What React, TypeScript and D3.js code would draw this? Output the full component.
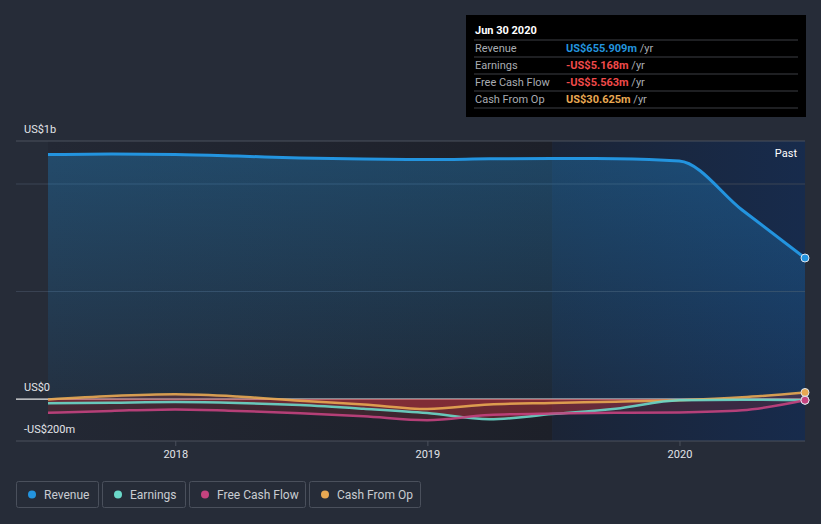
import React from "react";
import * as d3 from "d3";

const dates = [
  "2017-06-30", "2017-09-30", "2017-12-31", "2018-03-31", "2018-06-30", "2018-09-30",
  "2018-12-31", "2019-03-31", "2019-06-30", "2019-09-30", "2019-12-31", "2020-03-31", "2020-06-30",
];
// values in US$ millions
const revenue = [1137, 1139, 1137, 1130, 1121, 1116, 1114, 1117, 1119, 1118, 1107, 879, 655.909];
const earnings = [-20, -17, -14, -18, -28, -45, -65, -94, -70, -45, -6, -3, -5.168];
const freeCashFlow = [-64, -55, -48, -55, -66, -80, -98, -74, -67, -64, -62, -52, -5.563];
const cashFromOp = [-2, 14, 22, 12, -8, -25, -46, -25, -18, -12, -5, 8, 30.625];

const seriesNames = ["Revenue", "Earnings", "Free Cash Flow", "Cash From Op"];
const seriesColors = ["#2394df", "#6ad8c9", "#c4437f", "#e8a852"];
const tooltipValues = ["US$655.909m", "-US$5.168m", "-US$5.563m", "US$30.625m"];
const tooltipColors = ["#2394df", "#f04a4a", "#f04a4a", "#e8a852"];
const yTickLabels = [
  { v: 1200, label: "US$1b" },
  { v: 0, label: "US$0" },
  { v: -195, label: "-US$200m" },
];
const xTicks = ["2018-01-01", "2019-01-01", "2020-01-01"];
const pastStart = "2019-06-30";

export default function App() {
  const W = 821, H = 524;
  const parse = d3.timeParse("%Y-%m-%d");
  const ds = dates.map((d) => parse(d) as Date);
  const x = d3.scaleTime().domain([ds[0], ds[ds.length - 1]]).range([48, 805]);
  const y = d3.scaleLinear().domain([-195, 1200]).range([441, 141]);
  const font = "Roboto, 'Open Sans', sans-serif";

  const mk = (vals: number[]) => ds.map((d, i) => ({ d, v: vals[i] }));
  const line = d3.line<{ d: Date; v: number }>().x((p) => x(p.d)).y((p) => y(p.v)).curve(d3.curveMonotoneX);
  const area = d3.area<{ d: Date; v: number }>().x((p) => x(p.d)).y0(y(0)).y1((p) => y(p.v)).curve(d3.curveMonotoneX);

  const all = [revenue, earnings, freeCashFlow, cashFromOp];
  const xPast = x(parse(pastStart) as Date);
  const x0 = x(ds[0]);
  const x1 = x(ds[ds.length - 1]);

  const legendBoxes = [
    { x: 16, w: 82 },
    { x: 102, w: 83 },
    { x: 189, w: 116 },
    { x: 309, w: 111 },
  ];

  return (
    <svg width={W} height={H} style={{ position: "fixed", left: 0, top: 0, display: "block" }} fontFamily={font}>
      <defs>
        <linearGradient id="darkBg" x1="0" x2="1" y1="0" y2="0">
          <stop offset="0" stopColor="#232834" />
          <stop offset="1" stopColor="#1d2029" />
        </linearGradient>
        <linearGradient id="pastBg" x1="0" x2="1" y1="0" y2="0">
          <stop offset="0" stopColor="#1b2436" />
          <stop offset="1" stopColor="#172b4c" />
        </linearGradient>
        <linearGradient id="revFill" x1="0" x2="0" y1="0" y2="1">
          <stop offset="0" stopColor="#2394df" stopOpacity={0.32} />
          <stop offset="1" stopColor="#2394df" stopOpacity={0.08} />
        </linearGradient>
      </defs>
      <rect width={W} height={H} fill="#262c38" />

      {/* plot backgrounds */}
      <rect x={x0} y={y(1200)} width={xPast - x0} height={y(-195) - y(1200)} fill="url(#darkBg)" />
      <rect x={xPast} y={y(1200)} width={x1 - xPast} height={y(-195) - y(1200)} fill="url(#pastBg)" />

      {/* gridlines */}
      <line x1={16} x2={x1} y1={y(1200)} y2={y(1200)} stroke="#4a505c" strokeWidth={1} />
      {[1000, 500].map((v) => (
        <line key={v} x1={16} x2={x1} y1={y(v)} y2={y(v)} stroke="#3a4454" strokeWidth={1} />
      ))}
      <line x1={16} x2={x1} y1={y(-195)} y2={y(-195)} stroke="#4a505c" strokeWidth={1} />
      {xTicks.map((t) => {
        const xx = x(parse(t) as Date);
        return <line key={t} x1={xx} x2={xx} y1={y(-195)} y2={y(-195) + 5} stroke="#4a505c" />;
      })}

      {/* revenue area */}
      <path d={area(mk(revenue)) || ""} fill="url(#revFill)" />

      {/* zero line */}
      <line x1={16} x2={x1} y1={y(0)} y2={y(0)} stroke="#e8e8e8" strokeWidth={1.2} />

      {/* negative areas */}
      <path d={area(mk(earnings)) || ""} fill="#c0343c" fillOpacity={0.35} />
      <path d={area(mk(freeCashFlow)) || ""} fill="#c0343c" fillOpacity={0.2} />
      <path d={area(mk(cashFromOp)) || ""} fill="#c0343c" fillOpacity={0.25} />

      {/* lines */}
      {[3, 1, 2, 0].map((i) => (
        <path key={i} d={line(mk(all[i])) || ""} fill="none" stroke={seriesColors[i]} strokeWidth={i === 0 ? 3 : 2.5} strokeOpacity={i === 0 ? 1 : 0.9} />
      ))}
      {[3, 1, 2, 0].map((i) => (
        <circle key={i} cx={x1} cy={y(all[i][all[i].length - 1])} r={4} fill={seriesColors[i]} stroke="#dfe6ee" strokeWidth={1} />
      ))}

      {/* axis labels */}
      {yTickLabels.map((t) => (
        <text key={t.label} x={24} y={y(t.v) - 8} fontSize={11} fill="#e2e4e8">{t.label}</text>
      ))}
      {xTicks.map((t) => (
        <text key={t} x={x(parse(t) as Date)} y={458} fontSize={11} fill="#e2e4e8" textAnchor="middle">{t.slice(0, 4)}</text>
      ))}
      <text x={797} y={157} fontSize={11} fill="#ffffff" textAnchor="end">Past</text>

      {/* tooltip */}
      <rect x={466} y={15} width={340} height={102} fill="#000000" />
      <text x={475} y={34} fontSize={11} fontWeight="bold" fill="#ffffff">Jun 30 2020</text>
      {seriesNames.map((n, i) => (
        <g key={n}>
          <line x1={474} x2={798} y1={40 + i * 17} y2={40 + i * 17} stroke="#3c3f45" />
          <text x={475} y={52 + i * 17} fontSize={11} fill="#a9acb2">{n}</text>
          <text x={566} y={52 + i * 17} fontSize={11}>
            <tspan fill={tooltipColors[i]} fontWeight="bold">{tooltipValues[i]}</tspan>
            <tspan fill="#a9acb2"> /yr</tspan>
          </text>
        </g>
      ))}
      <line x1={474} x2={798} y1={108} y2={108} stroke="#3c3f45" />

      {/* legend */}
      {seriesNames.map((n, i) => (
        <g key={n}>
          <rect x={legendBoxes[i].x + 0.5} y={481.5} width={legendBoxes[i].w} height={26} rx={2} fill="none" stroke="#4a505c" />
          <circle cx={legendBoxes[i].x + 16} cy={494.5} r={4} fill={seriesColors[i]} />
          <text x={legendBoxes[i].x + 28} y={498.5} fontSize={12} fill="#c9ccd2">{n}</text>
        </g>
      ))}
    </svg>
  );
}
